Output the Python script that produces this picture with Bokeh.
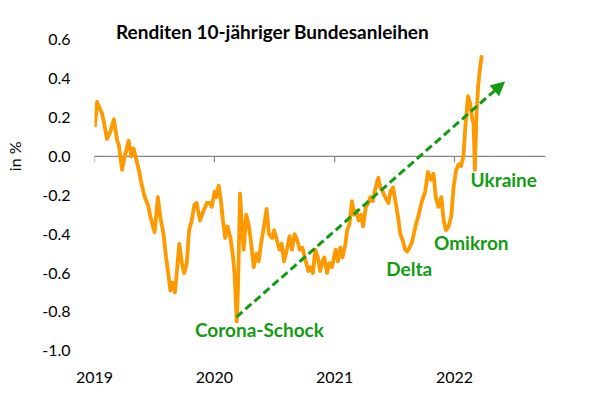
from datetime import datetime
import pandas as pd
from bokeh.plotting import figure
from bokeh.models import (Range1d, FixedTicker, NumeralTickFormatter, DatetimeTickFormatter,
                          Label, Span, Arrow, NormalHead, ColumnDataSource, LinearAxis)
from bokeh.embed import file_html
from bokeh.resources import INLINE

# ---- data ----
dates = [
    "2019-01-02", "2019-01-09", "2019-01-16", "2019-01-24", "2019-01-29", "2019-02-08", "2019-02-19",
    "2019-03-01", "2019-03-11", "2019-03-16", "2019-03-26", "2019-04-03", "2019-04-15", "2019-04-23",
    "2019-04-30", "2019-05-06", "2019-05-16", "2019-05-24", "2019-06-03", "2019-06-13", "2019-06-20",
    "2019-07-03", "2019-07-13", "2019-07-20", "2019-07-30", "2019-08-07", "2019-08-15", "2019-08-20",
    "2019-08-27", "2019-09-03", "2019-09-10", "2019-09-16", "2019-09-24", "2019-10-01", "2019-10-09",
    "2019-10-16", "2019-10-24", "2019-11-01", "2019-11-08", "2019-11-18", "2019-11-29", "2019-12-09",
    "2019-12-17", "2019-12-24",
    "2020-01-02", "2020-01-07", "2020-01-14", "2020-01-21", "2020-01-27", "2020-02-03", "2020-02-10",
    "2020-02-19", "2020-02-27", "2020-03-03", "2020-03-09", "2020-03-13", "2020-03-19", "2020-03-24",
    "2020-03-30", "2020-04-07", "2020-04-14", "2020-04-20", "2020-04-30", "2020-05-08", "2020-05-15",
    "2020-05-22", "2020-05-29", "2020-06-08", "2020-06-15", "2020-06-25", "2020-07-01", "2020-07-09",
    "2020-07-17", "2020-07-24", "2020-07-31", "2020-08-10", "2020-08-17", "2020-08-24", "2020-09-01",
    "2020-09-09", "2020-09-17", "2020-09-25", "2020-10-05", "2020-10-13", "2020-10-19", "2020-10-27",
    "2020-11-03", "2020-11-11", "2020-11-18", "2020-11-25", "2020-12-01", "2020-12-09", "2020-12-16",
    "2020-12-24",
    "2021-01-04", "2021-01-11", "2021-01-18", "2021-01-25", "2021-02-03", "2021-02-08", "2021-02-15",
    "2021-02-23", "2021-03-01", "2021-03-08", "2021-03-15", "2021-03-22", "2021-03-29", "2021-04-06",
    "2021-04-14", "2021-04-20", "2021-04-27", "2021-05-06", "2021-05-14", "2021-05-20", "2021-05-27",
    "2021-06-04", "2021-06-14", "2021-06-20", "2021-06-28", "2021-07-05", "2021-07-13", "2021-07-20",
    "2021-07-27", "2021-08-04", "2021-08-10", "2021-08-17", "2021-08-25", "2021-09-04", "2021-09-14",
    "2021-09-24", "2021-10-04", "2021-10-12", "2021-10-21", "2021-10-29", "2021-11-05", "2021-11-13",
    "2021-11-22", "2021-11-29", "2021-12-06", "2021-12-14", "2021-12-22", "2021-12-29",
    "2022-01-06", "2022-01-14", "2022-01-21", "2022-01-28", "2022-02-03", "2022-02-11", "2022-02-18",
    "2022-02-23", "2022-02-28", "2022-03-04", "2022-03-09", "2022-03-14", "2022-03-18", "2022-03-25",
]
yields = [
    0.15, 0.28, 0.25, 0.22, 0.18, 0.09, 0.13,
    0.19, 0.08, 0.06, -0.07, 0.00, 0.08, 0.00,
    0.04, 0.00, -0.07, -0.14, -0.21, -0.25, -0.31,
    -0.39, -0.21, -0.31, -0.40, -0.52, -0.62, -0.69,
    -0.65, -0.70, -0.57, -0.45, -0.55, -0.60, -0.55,
    -0.38, -0.33, -0.25, -0.24, -0.33, -0.28, -0.24,
    -0.24, -0.26,
    -0.18, -0.21, -0.15, -0.23, -0.33, -0.42, -0.36,
    -0.42, -0.52, -0.62, -0.85, -0.67, -0.19, -0.33,
    -0.48, -0.30, -0.35, -0.42, -0.57, -0.50, -0.54,
    -0.45, -0.38, -0.27, -0.40, -0.42, -0.38, -0.43,
    -0.48, -0.45, -0.54, -0.47, -0.41, -0.48, -0.40,
    -0.43, -0.48, -0.47, -0.54, -0.59, -0.57, -0.60,
    -0.48, -0.52, -0.59, -0.54, -0.52, -0.60, -0.55,
    -0.57,
    -0.48, -0.54, -0.47, -0.52, -0.45, -0.38, -0.35,
    -0.23, -0.30, -0.28, -0.33, -0.30, -0.36, -0.26,
    -0.24, -0.21, -0.23, -0.16, -0.11, -0.16, -0.18,
    -0.21, -0.24, -0.18, -0.16, -0.23, -0.31, -0.40,
    -0.43, -0.48, -0.49, -0.47, -0.44, -0.36, -0.30,
    -0.23, -0.18, -0.08, -0.12, -0.09, -0.21, -0.26,
    -0.21, -0.33, -0.38, -0.36, -0.31, -0.16,
    -0.07, -0.04, -0.05, 0.00, 0.15, 0.31, 0.27,
    0.20, 0.17, -0.07, 0.22, 0.36, 0.43, 0.52,
]
year_ticks = ["2019-01-01", "2020-01-01", "2021-01-01", "2022-01-01"]
y_ticks = [-1.0, -0.8, -0.6, -0.4, -0.2, 0.0, 0.2, 0.4, 0.6]

title_text = "Renditen 10-jähriger Bundesanleihen"
y_label = "in %"
events = ["Corona-Schock", "Delta", "Omikron", "Ukraine"]

# ---- styling ----
ORANGE = "#FF9900"
GREEN = "#129C12"
GREY = "#868686"
FONT = "Lato"


def ms(d):
    return pd.Timestamp(d).value / 1e6


src = ColumnDataSource(dict(x=pd.to_datetime(dates), y=yields))

p = figure(width=583, height=406, x_axis_type="datetime", output_backend="svg",
           toolbar_location=None,
           x_range=Range1d(datetime(2019, 1, 1), datetime(2022, 10, 5)),
           y_range=Range1d(-1.05, 0.75),
           min_border_left=94, min_border_right=38, min_border_top=10, min_border_bottom=46)
p.outline_line_color = None
p.xgrid.visible = False
p.ygrid.visible = False
p.background_fill_color = "white"
p.border_fill_color = "white"

# zero line with year ticks
p.add_layout(Span(location=0, dimension="width", line_color=GREY, line_width=1.2, level="underlay"))
tick_x = [ms(d) for d in year_ticks]
p.segment(x0=tick_x, x1=tick_x, y0=[0.0] * len(tick_x), y1=[-0.03] * len(tick_x),
          line_color=GREY, line_width=1.2, level="underlay")

# series
p.line("x", "y", source=src, line_color=ORANGE, line_width=3.8, line_join="round")

# x axis: labels only
xa = p.xaxis[0]
xa.ticker = FixedTicker(ticks=tick_x)
xa.formatter = DatetimeTickFormatter(years="%Y", months="%Y", days="%Y", hours="%Y",
                                     minutes="%Y", seconds="%Y", milliseconds="%Y",
                                     microseconds="%Y", minsec="%Y", hourmin="%Y")
xa.axis_line_color = None
xa.major_tick_line_color = None
xa.minor_tick_line_color = None
xa.major_label_standoff = 5
xa.major_label_text_font = FONT
xa.major_label_text_font_size = "16px"
xa.major_label_text_color = "black"

ya = p.yaxis[0]
ya.ticker = FixedTicker(ticks=y_ticks)
ya.formatter = NumeralTickFormatter(format="0.0")
ya.axis_line_color = None
ya.major_tick_line_color = None
ya.minor_tick_line_color = None
ya.major_label_standoff = 18
ya.major_label_text_font = FONT
ya.major_label_text_font_size = "16px"
ya.major_label_text_color = "black"

# y axis title: an outer axis with a single label at 0
ya2 = LinearAxis(ticker=FixedTicker(ticks=[0.0]), major_label_overrides={0: y_label})
ya2.axis_line_color = None
ya2.major_tick_line_color = None
ya2.minor_tick_line_color = None
ya2.major_label_standoff = 9
ya2.major_label_orientation = "vertical"
ya2.major_label_text_font = FONT
ya2.major_label_text_font_size = "16px"
ya2.major_label_text_color = "black"
p.add_layout(ya2, "left")

# chart title
p.add_layout(Label(x=ms("2020-06-26"), y=0.64, text=title_text, text_align="center",
                   text_baseline="alphabetic", text_font=FONT, text_font_size="19px",
                   text_font_style="bold", text_color="black"))

# trend arrow
p.add_layout(Arrow(x_start=ms("2020-03-08"), y_start=-0.827, x_end=ms("2022-06-02"), y_end=0.382,
                   line_color=GREEN, line_width=3, line_dash="8 4",
                   end=NormalHead(size=13, fill_color=GREEN, line_color=GREEN, line_width=1)))

# event labels
ev_pos = [("2020-05-17", -0.893), ("2021-08-16", -0.578), ("2022-02-21", -0.445), ("2022-05-31", -0.118)]
for name, (d, v) in zip(events, ev_pos):
    p.add_layout(Label(x=ms(d), y=v, text=name, text_align="center", text_baseline="middle",
                       text_font=FONT, text_font_size="19px", text_font_style="bold",
                       text_color=GREEN))

open("out.html", "w").write(file_html(p, INLINE))
